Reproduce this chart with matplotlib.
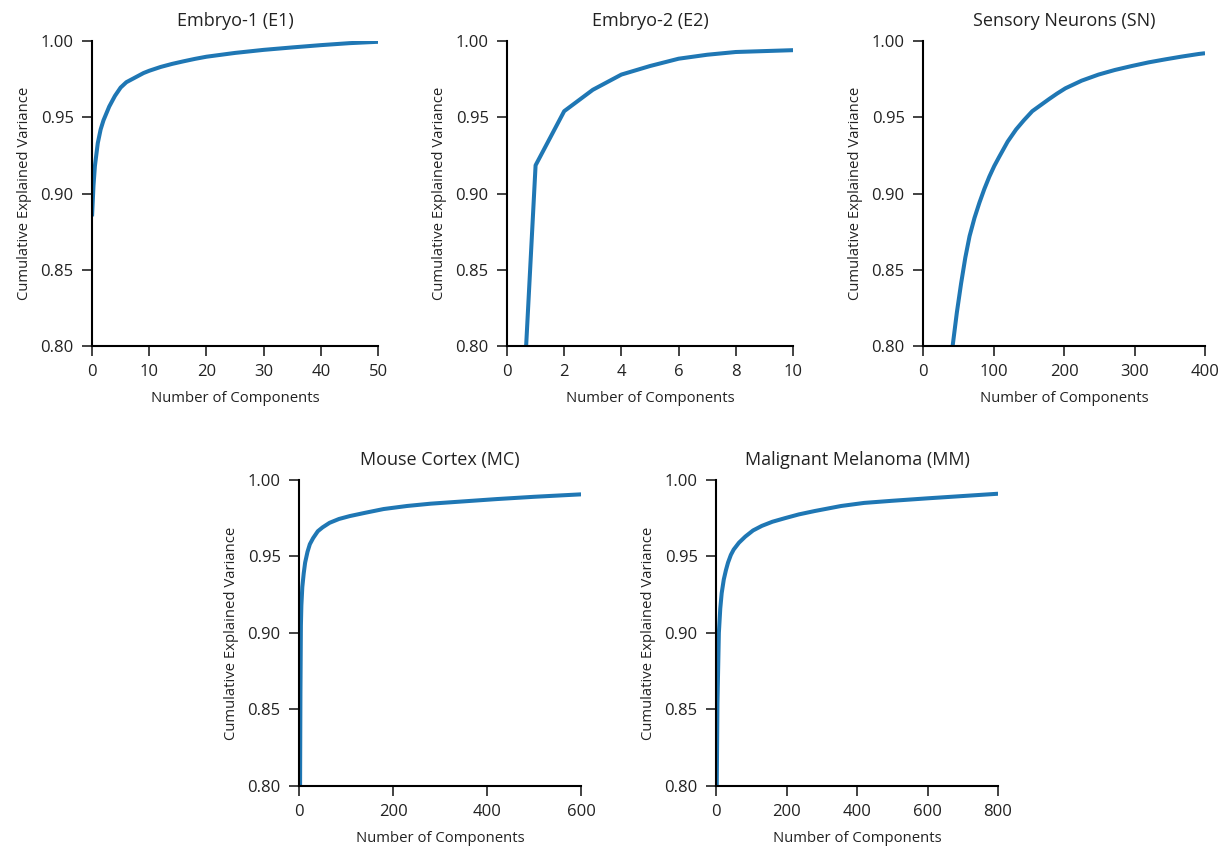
import numpy as np
import matplotlib
matplotlib.use('Agg')
import matplotlib.pyplot as plt

plt.rcParams['font.family'] = ['Open Sans', 'DejaVu Sans']

# Embryo-1 (E1)
e1_x = [0, 0.25, 0.5, 1, 1.5, 2, 3, 4, 5, 6, 7, 8, 9, 10, 12, 14, 16, 18, 20, 25, 30,
        35, 40, 45, 50]
e1_y = [0.885, 0.905, 0.918, 0.933, 0.942, 0.948, 0.957, 0.964, 0.9695, 0.973, 0.975,
        0.977, 0.979, 0.9805, 0.983, 0.985, 0.9867, 0.9883, 0.9897, 0.9922, 0.9942,
        0.9958, 0.9973, 0.9986, 0.9995]

# Embryo-2 (E2)
e2_x = [0, 1, 2, 3, 4, 5, 6, 7, 8, 9, 10]
e2_y = [0.56, 0.9185, 0.954, 0.968, 0.978, 0.9836, 0.9884, 0.991, 0.9928, 0.9934, 0.994]

# Sensory Neurons (SN)
sn_x = [40, 42, 48, 54, 60, 66, 73, 80, 87, 94, 101, 108, 120, 132, 143, 155, 167, 179,
        190, 202, 225, 249, 272, 296, 320, 344, 367, 391, 400]
sn_y = [0.793, 0.800, 0.822, 0.841, 0.858, 0.872, 0.884, 0.894, 0.903, 0.911, 0.918,
        0.924, 0.934, 0.942, 0.948, 0.954, 0.958, 0.962, 0.9655, 0.969, 0.974, 0.978,
        0.981, 0.9836, 0.986, 0.988, 0.9898, 0.9915, 0.992]

# Mouse Cortex (MC)
mc_x = [2, 3, 4, 5, 7, 10, 13, 18, 23, 30, 40, 50, 65, 85, 108, 140, 180, 230, 280,
        350, 420, 500, 600]
mc_y = [0.78, 0.86, 0.905, 0.918, 0.930, 0.939, 0.946, 0.953, 0.958, 0.962, 0.9665,
        0.969, 0.972, 0.9745, 0.9764, 0.9785, 0.981, 0.983, 0.9845, 0.986, 0.9875,
        0.989, 0.9906]

# Malignant Melanoma (MM)
mm_x = [2, 4, 8, 12, 16, 22, 28, 34, 42, 50, 65, 83, 105, 130, 160, 195, 235, 280, 355,
        420, 500, 600, 700, 800]
mm_y = [0.80, 0.854, 0.90, 0.916, 0.926, 0.935, 0.941, 0.946, 0.951, 0.9545, 0.959,
        0.963, 0.967, 0.970, 0.9727, 0.975, 0.9775, 0.9797, 0.983, 0.985, 0.9864,
        0.988, 0.9895, 0.991]

titles = ['Embryo-1 (E1)', 'Embryo-2 (E2)', 'Sensory Neurons (SN)',
          'Mouse Cortex (MC)', 'Malignant Melanoma (MM)']
xs = [e1_x, e2_x, sn_x, mc_x, mm_x]
ys = [e1_y, e2_y, sn_y, mc_y, mm_y]
xlims = [50, 10, 400, 600, 800]
xsteps = [10, 2, 100, 200, 200]

# axes boxes in figure fractions (left, bottom, width, height)
boxes = [
    (0.0752, 0.5934, 0.2337, 0.3584),
    (0.4142, 0.5934, 0.2337, 0.3584),
    (0.7541, 0.5934, 0.2304, 0.3584),
    (0.2443, 0.0764, 0.2304, 0.3596),
    (0.5850, 0.0764, 0.2304, 0.3596),
]

fig = plt.figure(figsize=(12.24, 8.51), dpi=100)
for i in range(5):
    ax = fig.add_axes(boxes[i])
    ax.plot(xs[i], ys[i], color='#1f77b4', linewidth=2.9, solid_capstyle='butt')
    ax.set_xlim(0, xlims[i])
    ax.set_ylim(0.80, 1.00)
    ax.set_xticks(np.arange(0, xlims[i] + 1, xsteps[i]))
    ax.set_yticks([0.80, 0.85, 0.90, 0.95, 1.00])
    ax.set_yticklabels(['0.80', '0.85', '0.90', '0.95', '1.00'])
    ax.spines['top'].set_visible(False)
    ax.spines['right'].set_visible(False)
    ax.spines['left'].set_linewidth(1.5)
    ax.spines['bottom'].set_linewidth(1.5)
    ax.tick_params(direction='out', length=7.2, width=1.2, labelsize=12,
                   colors='#222222')
    ax.tick_params(axis='y', pad=6)
    ax.tick_params(axis='x', pad=6)
    ax.set_title(titles[i], fontsize=13, pad=11, color='#222222')
    ax.set_xlabel('Number of Components', fontsize=10.75, labelpad=8, color='#222222')
    ax.set_ylabel('Cumulative Explained Variance', fontsize=10.75, labelpad=6,
                  color='#222222')

fig.savefig('out.png', dpi=100)
